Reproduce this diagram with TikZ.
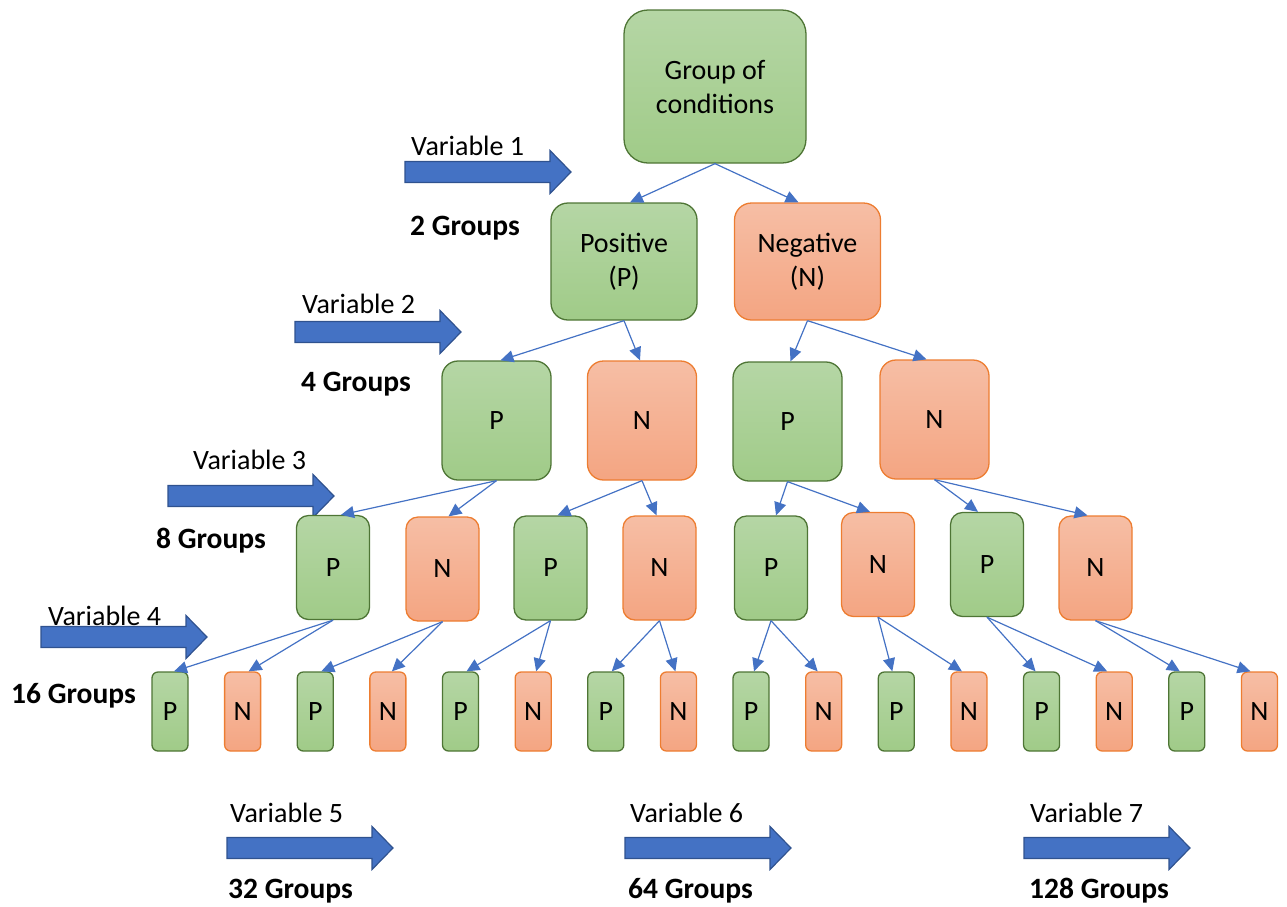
\documentclass[tikz,border=0pt]{standalone}
\usepackage{fontspec}
\setmainfont{Carlito}
\usetikzlibrary{arrows.meta}

\definecolor{gtop}{HTML}{B5D6A5}
\definecolor{gbot}{HTML}{A0CB88}
\definecolor{gline}{HTML}{4E7535}
\definecolor{otop}{HTML}{F6BEA5}
\definecolor{obot}{HTML}{F4A582}
\definecolor{oline}{HTML}{ED7D31}
\definecolor{bfill}{HTML}{4472C4}
\definecolor{bline}{HTML}{2F528F}

\newcommand\txtfont{\fontsize{28}{34}\selectfont}
\newcommand\boldfont{\fontsize{29.5}{34}\selectfont\bfseries}

\tikzset{
  x=1pt, y=-1pt,
  box/.style={draw, line width=1.3pt, inner sep=0pt, align=center, font=\txtfont},
  pbox/.style={box, draw=gline, top color=gtop, bottom color=gbot},
  nbox/.style={box, draw=oline, top color=otop, bottom color=obot},
  lvlzero/.style={minimum width=182pt, minimum height=153pt, rounded corners=24pt},
  lvlone/.style={minimum width=146pt, minimum height=117pt, rounded corners=17pt},
  lvltwo/.style={minimum width=109pt, minimum height=119pt, rounded corners=16pt},
  lvlthree/.style={minimum width=73pt, minimum height=104pt, rounded corners=12pt},
  lvlfour/.style={minimum width=36pt, minimum height=79pt, rounded corners=6pt},
  conn/.style={draw=bfill, line width=1.2pt, -{Triangle[length=13pt,width=12pt]}},
  varlabel/.style={anchor=base west, inner sep=0pt, font=\txtfont},
  grouplabel/.style={anchor=base west, inner sep=0pt, font=\boldfont},
  blockarrow/.style={draw=bline, fill=bfill, line width=1.2pt, line join=miter},
}

% connector from the bottom of a parent to the top of a child
\newcommand\link[3]{\draw[conn] (#1.south) -- ([xshift=#3pt]#2.north);}
% wide block arrow: left end x, centre line y
\newcommand\varrow[2]{%
  \draw[blockarrow] (#1,#2) ++(0,-10.5) -- ++(145,0) -- ++(0,-11) -- ++(21,21.5)
    -- ++(-21,21.5) -- ++(0,-11) -- ++(-145,0) -- cycle;}

\begin{document}
\begin{tikzpicture}
\useasboundingbox (0,0) rectangle (1287,906);

% labels of the variables (the arrows are drawn over them)
\node[varlabel] (v1) at (411,155) {Variable 1};
\node[varlabel] (v2) at (302,313) {Variable 2};
\node[varlabel] (v3) at (193,469) {Variable 3};
\node[varlabel] (v4) at (48,625) {Variable 4};
\node[varlabel] (v5) at (230,822) {Variable 5};
\node[varlabel] (v6) at (630,822) {Variable 6};
\node[varlabel] (v7) at (1030,822) {Variable 7};

\varrow{405}{172}
\varrow{295}{332}
\varrow{168}{496}
\varrow{41}{637}
\varrow{227}{848}
\varrow{625}{848}
\varrow{1024}{848}

% number of groups at each level
\node[grouplabel] (c1) at (410,235) {2 Groups};
\node[grouplabel] (c2) at (301,391) {4 Groups};
\node[grouplabel] (c3) at (156,548) {8 Groups};
\node[grouplabel] (c4) at (11,703) {16 Groups};
\node[grouplabel] (c5) at (228,898) {32 Groups};
\node[grouplabel] (c6) at (628,898) {64 Groups};
\node[grouplabel] (c7) at (1029,898) {128 Groups};

% root
\node[pbox, lvlzero] (g0) at (715,86.5) {Group of\\conditions};

% level 1
\node[pbox, lvlone] (l1p) at (624,261.5) {Positive\\(P)};
\node[nbox, lvlone] (l1n) at (807.5,261.5) {Negative\\(N)};

% level 2
\node[pbox, lvltwo] (l2-0) at (496.5,420.5) {P};
\node[nbox, lvltwo] (l2-1) at (642,420.5) {N};
\node[pbox, lvltwo] (l2-2) at (787.5,421.5) {P};
\node[nbox, lvltwo] (l2-3) at (934.5,419.5) {N};

% level 3
\node[pbox, lvlthree] (l3-0) at (333,567.5) {P};
\node[nbox, lvlthree] (l3-1) at (442.5,569) {N};
\node[pbox, lvlthree] (l3-2) at (550.5,568) {P};
\node[nbox, lvlthree] (l3-3) at (659.5,568) {N};
\node[pbox, lvlthree] (l3-4) at (771,568) {P};
\node[nbox, lvlthree] (l3-5) at (878,564.5) {N};
\node[pbox, lvlthree] (l3-6) at (987,564.5) {P};
\node[nbox, lvlthree] (l3-7) at (1095.5,568) {N};

% level 4
\foreach \i in {0,...,15} {
  \pgfmathsetmacro\cx{170+72.63*\i}
  \ifodd\i
    \node[nbox, lvlfour] (l4-\i) at (\cx,711.5) {N};
  \else
    \node[pbox, lvlfour] (l4-\i) at (\cx,711.5) {P};
  \fi
}

% connectors
\link{g0}{l1p}{6}
\link{g0}{l1n}{-9}
\link{l1p}{l2-0}{4}
\link{l1p}{l2-1}{-2}
\link{l1n}{l2-2}{3}
\link{l1n}{l2-3}{-8}
\link{l2-0}{l3-0}{8}
\link{l2-0}{l3-1}{6}
\link{l2-1}{l3-2}{7}
\link{l2-1}{l3-3}{-3}
\link{l2-2}{l3-4}{5}
\link{l2-2}{l3-5}{-8}
\link{l2-3}{l3-6}{-9}
\link{l2-3}{l3-7}{-8}
\link{l3-0}{l4-0}{4}
\link{l3-0}{l4-1}{6}
\link{l3-1}{l4-2}{6}
\link{l3-1}{l4-3}{4}
\link{l3-2}{l4-4}{6}
\link{l3-2}{l4-5}{3}
\link{l3-3}{l4-6}{6}
\link{l3-3}{l4-7}{-3}
\link{l3-4}{l4-8}{3}
\link{l3-4}{l4-9}{-6}
\link{l3-5}{l4-10}{-4}
\link{l3-5}{l4-11}{-7}
\link{l3-6}{l4-12}{-6}
\link{l3-6}{l4-13}{-7}
\link{l3-7}{l4-14}{-7}
\link{l3-7}{l4-15}{-9}
\end{tikzpicture}
\end{document}
